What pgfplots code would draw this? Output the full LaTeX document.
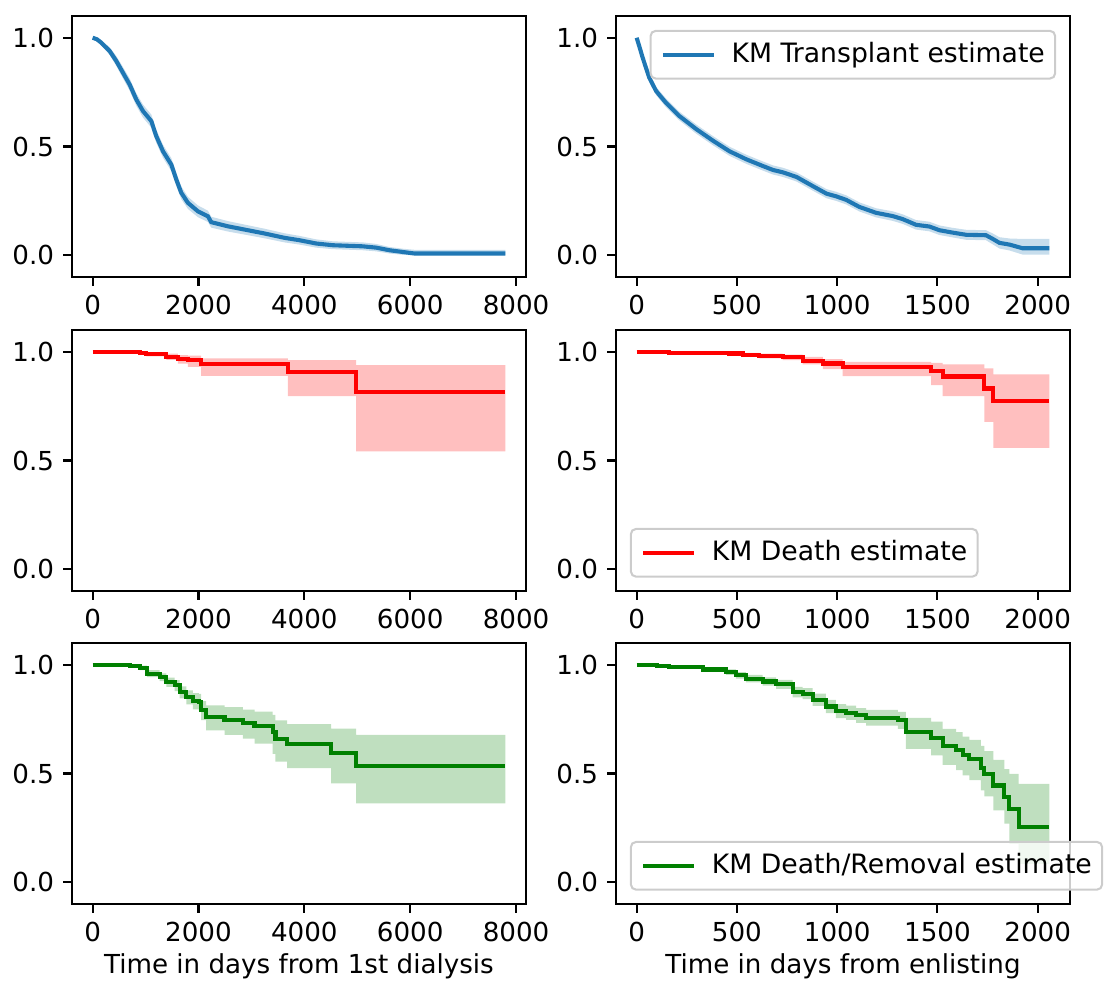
\documentclass[border=0pt]{standalone}
\usepackage{fontspec}
\setmainfont{DejaVu Sans}
\usepackage{pgfplots}
\usepackage{pgfplotstable}
\pgfplotsset{compat=1.18}
\usepgfplotslibrary{fillbetween}

\definecolor{tabblue}{RGB}{31,119,180}
\definecolor{kmred}{RGB}{255,0,0}
\definecolor{kmgreen}{RGB}{0,128,0}

\pgfplotstableread{
x y lo hi
0 1.000 1.000 1.000
80 0.993 0.985 1.000
164 0.977 0.965 0.989
321 0.939 0.922 0.956
447 0.893 0.870 0.916
573 0.839 0.813 0.865
699 0.785 0.757 0.813
825 0.716 0.687 0.745
951 0.663 0.633 0.693
1108 0.617 0.587 0.647
1203 0.547 0.517 0.577
1329 0.478 0.448 0.508
1486 0.417 0.387 0.447
1581 0.348 0.318 0.378
1675 0.287 0.258 0.316
1800 0.241 0.213 0.269
1989 0.202 0.175 0.229
2178 0.179 0.153 0.205
2241 0.152 0.127 0.177
2556 0.133 0.109 0.157
2871 0.118 0.095 0.141
3249 0.100 0.078 0.122
3626 0.080 0.059 0.101
3909 0.069 0.049 0.089
4223 0.054 0.035 0.073
4538 0.046 0.028 0.064
5104 0.041 0.023 0.059
5356 0.035 0.018 0.052
5608 0.023 0.008 0.038
5860 0.015 0.002 0.030
6080 0.008 0.000 0.025
7798 0.008 0.000 0.025
}\tTL

\pgfplotstableread{
x y lo hi
0 1.000 1.000 1.000
15 0.955 0.943 0.967
30 0.908 0.893 0.923
63 0.816 0.798 0.834
97 0.755 0.736 0.774
147 0.700 0.680 0.720
213 0.640 0.620 0.660
297 0.580 0.559 0.601
380 0.527 0.506 0.548
463 0.478 0.457 0.499
547 0.441 0.420 0.462
630 0.410 0.389 0.431
680 0.392 0.371 0.413
730 0.381 0.360 0.402
797 0.360 0.339 0.381
880 0.317 0.296 0.338
947 0.283 0.262 0.304
994 0.271 0.250 0.292
1044 0.255 0.234 0.276
1111 0.222 0.201 0.243
1194 0.195 0.174 0.216
1277 0.180 0.158 0.202
1327 0.166 0.144 0.188
1393 0.140 0.118 0.162
1460 0.132 0.110 0.154
1510 0.115 0.093 0.137
1576 0.104 0.082 0.126
1643 0.094 0.071 0.117
1742 0.092 0.069 0.115
1776 0.075 0.050 0.100
1809 0.057 0.031 0.083
1859 0.049 0.022 0.077
1925 0.032 0.003 0.075
2058 0.032 0.003 0.075
}\tTR

\pgfplotstableread{
x y lo hi
0 1.000 1.000 1.000
700 0.997 0.993 1.000
887 0.995 0.988 1.000
1013 0.989 0.979 0.998
1391 0.977 0.963 0.991
1611 0.966 0.945 0.985
1800 0.962 0.931 0.982
2052 0.942 0.889 0.969
3689 0.905 0.796 0.962
4979 0.816 0.542 0.939
7798 0.816 0.542 0.939
}\tML

\pgfplotstableread{
x y lo hi
0 1.000 1.000 1.000
163 0.996 0.990 1.000
462 0.992 0.985 0.999
529 0.986 0.977 0.995
612 0.980 0.969 0.991
728 0.974 0.961 0.987
828 0.959 0.942 0.976
928 0.946 0.920 0.966
1027 0.929 0.888 0.954
1468 0.912 0.846 0.949
1526 0.886 0.796 0.942
1734 0.831 0.677 0.923
1779 0.773 0.558 0.896
2058 0.773 0.558 0.896
}\tMR

\pgfplotstableread{
x y lo hi
0 1.000 1.000 1.000
698 0.994 0.988 1.000
887 0.986 0.975 0.996
1026 0.959 0.943 0.975
1265 0.943 0.925 0.960
1391 0.920 0.898 0.941
1548 0.905 0.879 0.929
1643 0.874 0.845 0.901
1769 0.851 0.818 0.882
1894 0.833 0.795 0.870
2008 0.828 0.787 0.866
2052 0.790 0.745 0.833
2146 0.759 0.698 0.813
2492 0.747 0.678 0.805
2839 0.733 0.660 0.794
3059 0.718 0.637 0.785
3400 0.690 0.590 0.770
3455 0.660 0.555 0.744
3675 0.635 0.525 0.727
4506 0.594 0.455 0.706
4979 0.534 0.363 0.678
7798 0.534 0.363 0.678
}\tBL

\pgfplotstableread{
x y lo hi
0 1.000 1.000 1.000
100 0.995 0.990 1.000
163 0.989 0.982 0.996
329 0.978 0.968 0.988
445 0.966 0.953 0.979
495 0.951 0.936 0.966
545 0.936 0.919 0.953
628 0.923 0.904 0.942
695 0.910 0.889 0.931
778 0.874 0.850 0.898
828 0.867 0.842 0.892
878 0.839 0.811 0.867
944 0.808 0.778 0.838
994 0.787 0.755 0.819
1044 0.779 0.746 0.812
1094 0.767 0.733 0.801
1144 0.756 0.720 0.792
1302 0.744 0.705 0.783
1343 0.690 0.613 0.756
1468 0.664 0.583 0.738
1526 0.626 0.540 0.705
1593 0.606 0.515 0.690
1626 0.583 0.491 0.670
1659 0.567 0.470 0.655
1717 0.526 0.422 0.627
1734 0.498 0.395 0.603
1779 0.445 0.330 0.563
1834 0.391 0.270 0.520
1859 0.337 0.176 0.498
1905 0.253 0.084 0.452
2058 0.253 0.084 0.452
}\tBR

\pgfplotsset{
  /pgf/number format/assume math mode=true,
  /pgf/number format/1000 sep={},
  km/.style={
    scale only axis, width=177.06pt, height=101.79pt,
    ymin=-0.1, ymax=1.1, ytick={0,0.5,1},
    yticklabel style={/pgf/number format/.cd, fixed, fixed zerofill, precision=1},
    axis line style={black, line width=0.8pt},
    tick style={black, line width=0.8pt},
    tick align=outside, major tick length=3.5pt,
    xtick pos=left, ytick pos=left,
    tick label style={font=\fontsize{10.2}{12}\selectfont},
    label style={font=\fontsize{10.2}{12}\selectfont},
    xlabel style={yshift=2.3pt},
    legend style={draw=black!20, fill=white, fill opacity=0.8, text opacity=1,
      rounded corners=2pt, line width=0.8pt,
      font=\fontsize{10.4}{12}\selectfont, inner xsep=4pt, inner ysep=4.6pt,
      nodes={inner sep=0pt}, column sep=6pt,
      cells={anchor=west}},
    legend image code/.code={\draw[##1, line width=1.6pt] (0pt,0pt) -- (20pt,0pt);},
  },
  kmleft/.style={km, xmin=-390, xmax=8188, xtick={0,2000,4000,6000,8000}},
  kmright/.style={km, xmin=-103, xmax=2161, xtick={0,500,1000,1500,2000}},
}

\begin{document}
\begin{tikzpicture}

% Top left
\begin{axis}[kmleft, at={(28.08pt,-6.24pt)}, anchor=north west]
\addplot[draw=none, name path=tlh, forget plot] table[x=x,y=hi]{\tTL};
\addplot[draw=none, name path=tll, forget plot] table[x=x,y=lo]{\tTL};
\addplot[fill=tabblue, fill opacity=0.25, draw=none, forget plot] fill between[of=tlh and tll];
\addplot[tabblue, line width=1.6pt, forget plot] table[x=x,y=y]{\tTL};
\end{axis}

% Top right
\begin{axis}[kmright, at={(240.24pt,-6.24pt)}, anchor=north west,
  legend style={at={(1,1)}, anchor=north east, xshift=-5.4pt, yshift=-5.4pt}]
\addplot[draw=none, name path=trh, forget plot] table[x=x,y=hi]{\tTR};
\addplot[draw=none, name path=trl, forget plot] table[x=x,y=lo]{\tTR};
\addplot[fill=tabblue, fill opacity=0.25, draw=none, forget plot] fill between[of=trh and trl];
\addplot[tabblue, line width=1.6pt] table[x=x,y=y]{\tTR};
\addlegendentry{KM Transplant estimate}
\end{axis}

% Middle left
\begin{axis}[kmleft, at={(28.08pt,-128.7pt)}, anchor=north west]
\addplot[const plot, draw=none, name path=mlh, forget plot] table[x=x,y=hi]{\tML};
\addplot[const plot, draw=none, name path=mll, forget plot] table[x=x,y=lo]{\tML};
\addplot[fill=kmred, fill opacity=0.25, draw=none, forget plot] fill between[of=mlh and mll];
\addplot[const plot, kmred, line width=1.6pt, forget plot] table[x=x,y=y]{\tML};
\end{axis}

% Middle right
\begin{axis}[kmright, at={(240.24pt,-128.7pt)}, anchor=north west,
  legend style={at={(0,0)}, anchor=south west, xshift=5.4pt, yshift=5.2pt}]
\addplot[const plot, draw=none, name path=mrh, forget plot] table[x=x,y=hi]{\tMR};
\addplot[const plot, draw=none, name path=mrl, forget plot] table[x=x,y=lo]{\tMR};
\addplot[fill=kmred, fill opacity=0.25, draw=none, forget plot] fill between[of=mrh and mrl];
\addplot[const plot, kmred, line width=1.6pt] table[x=x,y=y]{\tMR};
\addlegendentry{KM Death estimate}
\end{axis}

% Bottom left
\begin{axis}[kmleft, at={(28.08pt,-250.77pt)}, anchor=north west,
  xlabel={Time in days from 1st dialysis}]
\addplot[const plot, draw=none, name path=blh, forget plot] table[x=x,y=hi]{\tBL};
\addplot[const plot, draw=none, name path=bll, forget plot] table[x=x,y=lo]{\tBL};
\addplot[fill=kmgreen, fill opacity=0.25, draw=none, forget plot] fill between[of=blh and bll];
\addplot[const plot, kmgreen, line width=1.6pt, forget plot] table[x=x,y=y]{\tBL};
\end{axis}

% Bottom right
\begin{axis}[kmright, at={(240.24pt,-250.77pt)}, anchor=north west,
  xlabel={Time in days from enlisting},
  legend style={at={(0,0)}, anchor=south west, xshift=5.4pt, yshift=5.2pt}]
\addplot[const plot, draw=none, name path=brh, forget plot] table[x=x,y=hi]{\tBR};
\addplot[const plot, draw=none, name path=brl, forget plot] table[x=x,y=lo]{\tBR};
\addplot[fill=kmgreen, fill opacity=0.25, draw=none, forget plot] fill between[of=brh and brl];
\addplot[const plot, kmgreen, line width=1.6pt] table[x=x,y=y]{\tBR};
\addlegendentry{KM Death/Removal estimate}
\end{axis}

\pgfresetboundingbox
\path[use as bounding box] (0,0) rectangle (430.95pt,-384.54pt);
\end{tikzpicture}
\end{document}
